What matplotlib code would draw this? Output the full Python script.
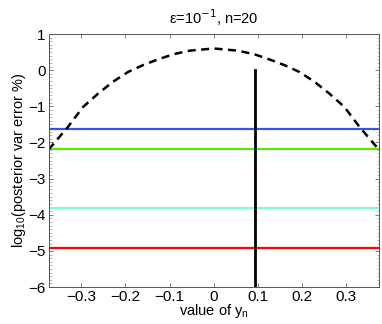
import numpy as np
import matplotlib
matplotlib.use("Agg")
import matplotlib.pyplot as plt
from matplotlib.ticker import MultipleLocator

plt.rcParams['font.family'] = ['Liberation Sans', 'DejaVu Sans']

# dashed curve: log10 of posterior var error vs y_n
curve_x = [-0.374, -0.33, -0.296, -0.262, -0.228, -0.194, -0.16, -0.13, -0.092, -0.054, 0.0,
           0.054, 0.092, 0.13, 0.16, 0.194, 0.228, 0.262, 0.296, 0.33, 0.374]
curve_y = [-2.2, -1.57, -1.02, -0.65, -0.32, -0.05, 0.14, 0.28, 0.44, 0.54, 0.6,
           0.54, 0.44, 0.28, 0.14, -0.05, -0.32, -0.65, -1.02, -1.57, -2.2]

# constant levels
level_values = [-1.62, -2.19, -3.82, -4.92]
level_colors = ["#3355ee", "#55ee00", "#77ffdd", "#ff0000"]

# observed y_n marker
y_obs = 0.094
y_obs_top = 0.0

x_ticks = [-0.3, -0.2, -0.1, 0, 0.1, 0.2, 0.3]
x_ticklabels = ["\u22120.3", "\u22120.2", "\u22120.1", "0", "0.1", "0.2", "0.3"]
y_ticks = [-6, -5, -4, -3, -2, -1, 0, 1]
y_ticklabels = ["\u22126", "\u22125", "\u22124", "\u22123", "\u22122", "\u22121", "0", "1"]

fig = plt.figure(figsize=(3.82, 3.24), dpi=100)
ax = fig.add_axes([0.127, 0.114, 0.865, 0.781])

xmin, xmax = -0.374, 0.374
for val, col in zip(level_values, level_colors):
    ax.plot([xmin, xmax], [val, val], color=col, linewidth=1.6)
ax.plot([y_obs, y_obs], [-6, y_obs_top], color="black", linewidth=2.0)
ax.plot(curve_x, curve_y, color="black", linewidth=1.8, linestyle=(0, (3.2, 2.2)))

ax.set_xlim(xmin, xmax)
ax.set_ylim(-6, 1)
ax.set_xticks(x_ticks)
ax.set_xticklabels(x_ticklabels)
ax.set_yticks(y_ticks)
ax.set_yticklabels(y_ticklabels)
ax.yaxis.set_minor_locator(MultipleLocator(0.1))

ax.tick_params(direction="in", top=True, right=True, labelsize=11, length=3,
               color="#666666", width=0.6, pad=2)
ax.tick_params(which="minor", direction="in", left=True, right=True, length=1.8,
               color="#999999", width=0.5)
for s in ax.spines.values():
    s.set_color("#555555")
    s.set_linewidth(0.7)

ax.set_title("\u03b5=10$^{-1}$, n=20", fontsize=10.5, pad=7)
ax.set_xlabel("value of y$_{\\mathregular{n}}$", fontsize=10.5, labelpad=-1)
ax.set_ylabel("log$_{\\mathregular{10}}$(posterior var error %)", fontsize=10.5, labelpad=0)

fig.savefig("out.png", dpi=100)
